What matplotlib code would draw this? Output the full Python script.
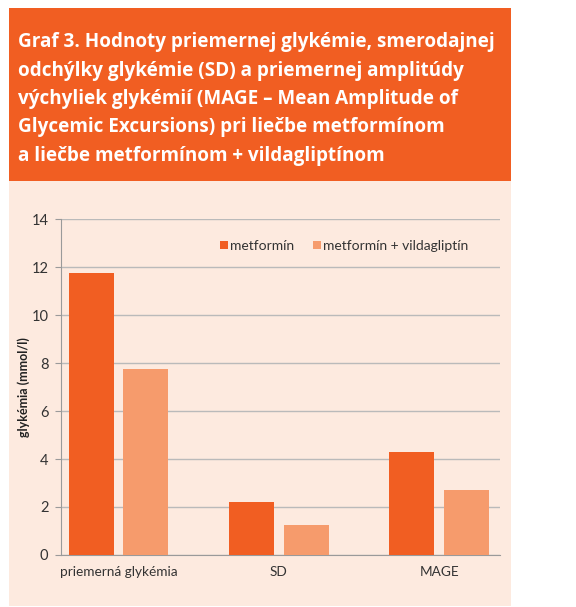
import matplotlib.pyplot as plt
from matplotlib.patches import Rectangle
import numpy as np

# data
categories = ["priemerná glykémia", "SD", "MAGE"]
metformin = [11.75, 2.2, 4.3]
metformin_vilda = [7.75, 1.25, 2.7]
series_names = ["metformín", "metformín + vildagliptín"]
yticks = [0, 2, 4, 6, 8, 10, 12, 14]

title = ("Graf 3. Hodnoty priemernej glykémie, smerodajnej\n"
         "odchýlky glykémie (SD) a priemernej amplitúdy\n"
         "výchyliek glykémií (MAGE – Mean Amplitude of\n"
         "Glycemic Excursions) pri liečbe metformínom\n"
         "a liečbe metformínom + vildagliptínom")

dark = "#F15E22"
light = "#F69B6C"
beige = "#FDEADF"
txt = "#333333"
body_font = "Lato"

W, H = 576, 607
fig = plt.figure(figsize=(W / 100, H / 100), dpi=100)
fig.patch.set_facecolor("white")

# header box and beige panel (behind the axes)
fig.patches.append(Rectangle((9 / W, 1 - 181 / H), 502 / W, 173 / H,
                             transform=fig.transFigure, color=dark, lw=0, zorder=-5))
fig.patches.append(Rectangle((9 / W, 1 - 606 / H), 502 / W, 425 / H,
                             transform=fig.transFigure, color=beige, lw=0, zorder=-5))
fig.text(18 / W, 1 - 99 / H, title, color="white", fontsize=13.6,
         fontweight="bold", family="Open Sans", va="center", ha="left",
         linespacing=1.55)

ax = fig.add_axes([61 / W, 1 - 555 / H, 439 / W, 336 / H])
ax.set_facecolor(beige)

x = np.arange(len(categories))
bw = 0.28
off = 0.17
ax.bar(x - off, metformin, bw, color=dark, label=series_names[0], zorder=3)
ax.bar(x + off, metformin_vilda, bw, color=light, label=series_names[1], zorder=3)

ax.set_xlim(-0.36, 2.38)
ax.set_ylim(0, 14)
ax.set_yticks(yticks)
ax.set_xticks(x)
ax.set_xticklabels(categories, family=body_font)
for lab in ax.get_yticklabels():
    lab.set_family(body_font)
ax.grid(axis="y", color="#BABABA", lw=1, zorder=0)
for s in ["top", "right"]:
    ax.spines[s].set_visible(False)
ax.spines["left"].set_color("#9A9A9A")
ax.spines["bottom"].set_color("#9A9A9A")
ax.tick_params(axis="y", length=4, color="#9A9A9A", labelsize=10.5,
               labelcolor=txt, pad=5)
ax.tick_params(axis="x", length=0, labelsize=9.8, labelcolor=txt, pad=8)
ax.set_ylabel("glykémia (mmol/l)", fontsize=9, fontweight="bold",
              family=body_font, color="#222222", labelpad=1)

ax.legend(loc="upper center", bbox_to_anchor=(0.645, 0.975), ncol=2,
          frameon=False, prop={"family": body_font, "size": 10},
          handlelength=0.6, handleheight=0.6,
          handletextpad=0.15, columnspacing=1.3, labelcolor=txt)

fig.savefig("out.png", dpi=100, facecolor="white")
